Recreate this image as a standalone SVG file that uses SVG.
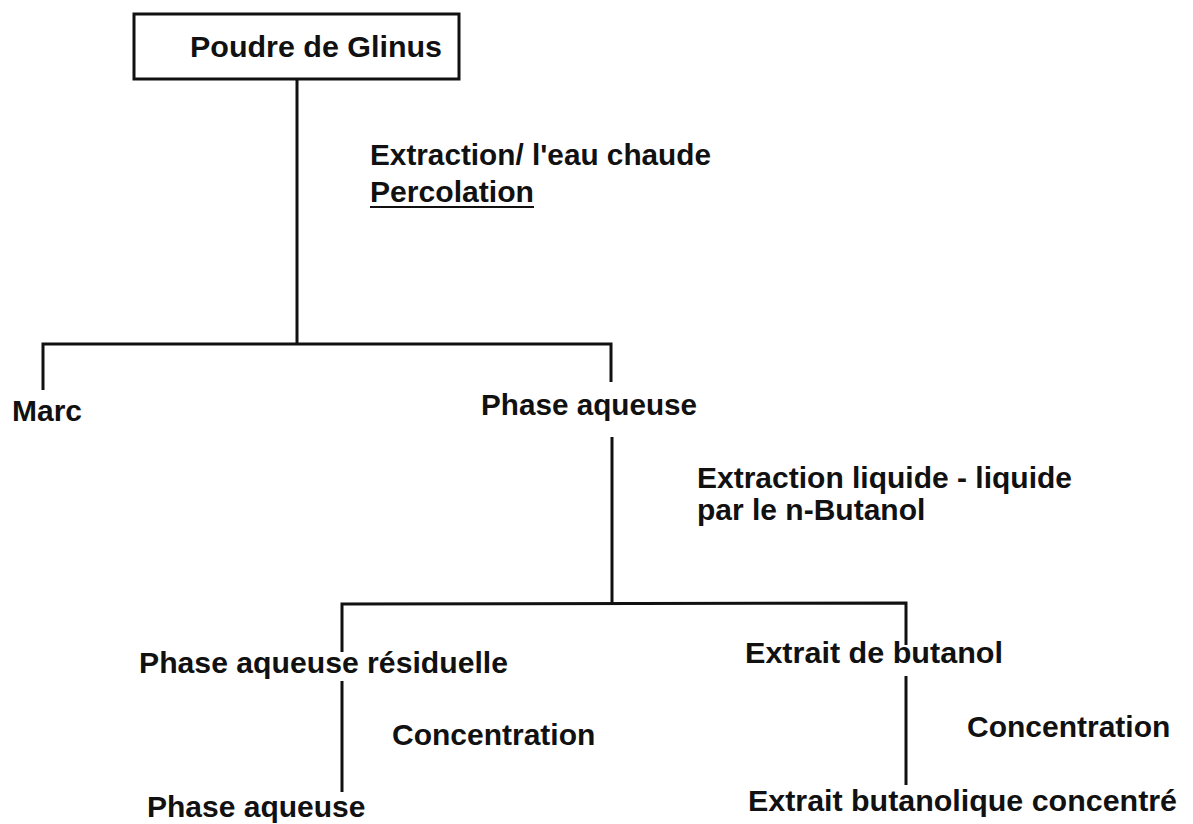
<svg xmlns="http://www.w3.org/2000/svg" width="1193" height="824" viewBox="0 0 1193 824">
<style>
text{font-family:"Liberation Sans",Arial,sans-serif;font-weight:bold;font-size:30px;fill:#111}
.ln{stroke:#111;stroke-width:3;fill:none}
</style>
<rect width="1193" height="824" fill="#fff"/>
<g id="connectors">
<line class="ln" x1="297" y1="79" x2="297" y2="344"/>
<polyline class="ln" points="43,390 43,344 611,344 611,382"/>
<line class="ln" x1="612" y1="437" x2="612" y2="604"/>
<polyline class="ln" points="342,652 342,604 906,603 906,645"/>
<line class="ln" x1="342" y1="681" x2="342" y2="792"/>
<line class="ln" x1="906" y1="676" x2="906" y2="785"/>
</g>
<g id="n-poudre">
<rect class="ln" x="134" y="14" width="325" height="65"/>
<text x="190" y="57" textLength="252" lengthAdjust="spacingAndGlyphs">Poudre de Glinus</text>
</g>
<g id="l-extraction">
<text x="370" y="165" textLength="341" lengthAdjust="spacingAndGlyphs">Extraction/ l'eau chaude</text>
<text x="370" y="202" textLength="164" lengthAdjust="spacingAndGlyphs">Percolation</text>
<line x1="370" y1="207" x2="534" y2="207" stroke="#111" stroke-width="2"/>
</g>
<g id="n-marc"><text x="12" y="421">Marc</text></g>
<g id="n-phase"><text x="481" y="415" textLength="216" lengthAdjust="spacingAndGlyphs">Phase aqueuse</text></g>
<g id="l-liquide">
<text x="697" y="488">Extraction liquide - liquide</text>
<text x="697" y="520">par le n-Butanol</text>
</g>
<g id="n-residuelle"><text x="139" y="673" textLength="369" lengthAdjust="spacingAndGlyphs">Phase aqueuse résiduelle</text></g>
<g id="l-conc1"><text x="392" y="745">Concentration</text></g>
<g id="n-phase2"><text x="147" y="817">Phase aqueuse</text></g>
<g id="n-butanol"><text x="745" y="663" textLength="258" lengthAdjust="spacingAndGlyphs">Extrait de butanol</text></g>
<g id="l-conc2"><text x="967" y="737">Concentration</text></g>
<g id="n-concentre"><text x="748" y="811" textLength="429" lengthAdjust="spacingAndGlyphs">Extrait butanolique concentré</text></g>
</svg>
